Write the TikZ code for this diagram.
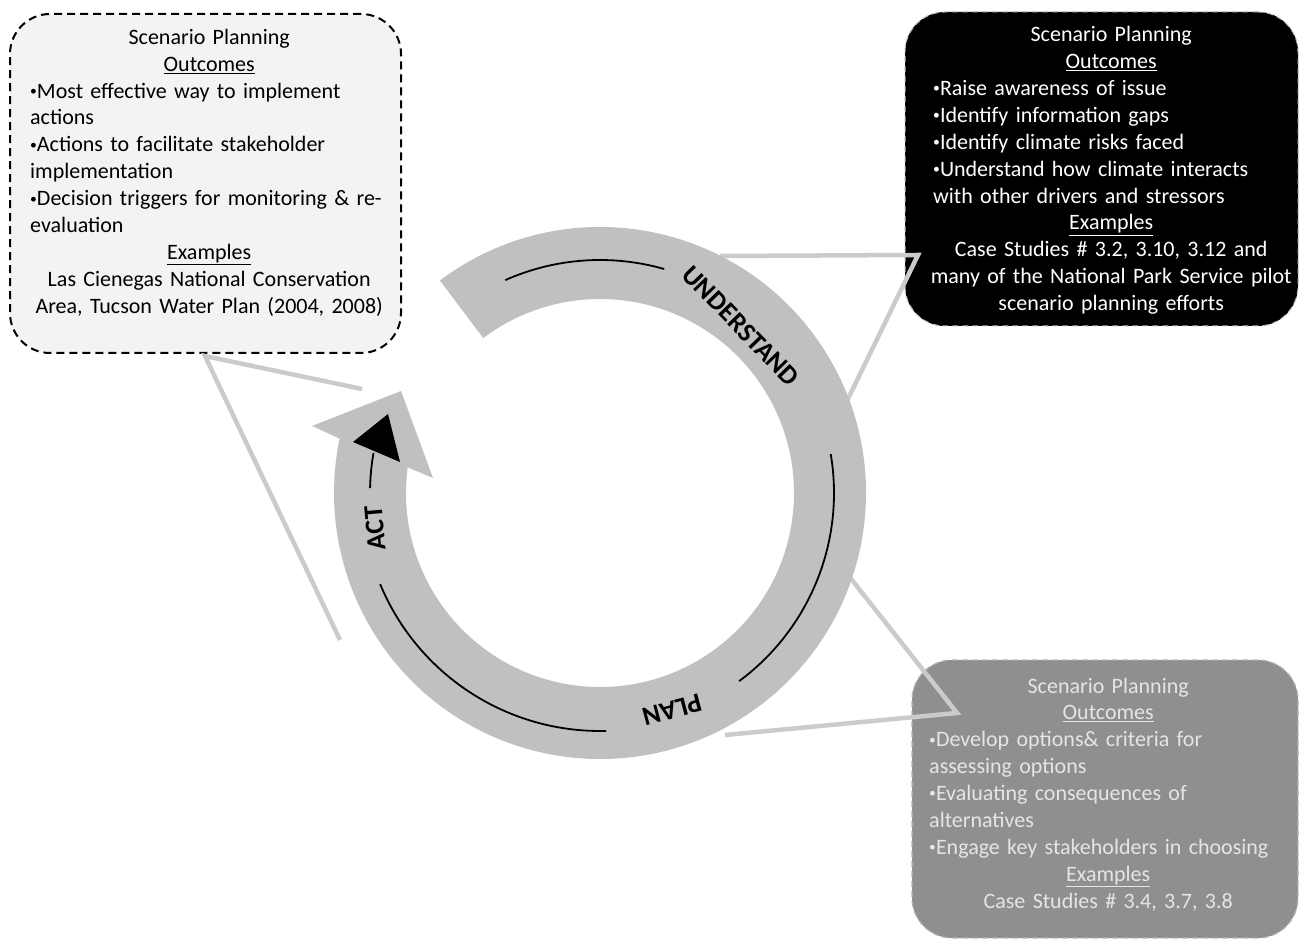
\documentclass[tikz,border=0pt]{standalone}
\usepackage{graphicx}
\usepackage{fontspec}
\setmainfont{Carlito}
\definecolor{ringgray}{HTML}{BEC0C2}
\definecolor{linkgray}{HTML}{CBCBCB}
\definecolor{paleboxfill}{HTML}{F3F3F3}
\definecolor{midboxfill}{HTML}{8E8F91}
\definecolor{midboxedge}{HTML}{B4B5B7}
% small list bullet
\newcommand{\blt}{\raisebox{0.12em}{\scalebox{0.62}{•}}}
\begin{document}
\begin{tikzpicture}[x=1pt,y=1pt,
  panel/.style={rectangle, rounded corners=40pt, inner sep=0pt},
  paneltext/.style={anchor=base west, inner sep=0pt,
    font=\fontsize{22}{26.9}\selectfont},
  link/.style={draw=linkgray, line width=4.5pt},
  arcline/.style={draw=black, line width=1.8pt},
  ringlabel/.style={font=\fontsize{27}{30}\selectfont\bfseries, inner sep=0pt}]
\useasboundingbox (0,0) rectangle (1300,943);

% outcome panels
\node[panel, draw=black, dash pattern=on 8pt off 5pt, line width=2pt,
  fill=paleboxfill, minimum width=391pt, minimum height=339pt]
  (actbox) at (205.5,759.5) {};
\node[panel, draw=gray!55, dash pattern=on 6pt off 4pt, line width=1pt,
  fill=black, minimum width=393pt, minimum height=314pt]
  (understandbox) at (1101.5,774) {};
\node[panel, draw=midboxedge, dash pattern=on 6pt off 4pt, line width=1.2pt,
  fill=midboxfill, minimum width=386pt, minimum height=278pt]
  (planbox) at (1105,144) {};

% callout wedges from the panels to the cycle
\coordinate (actapex) at (205,587);
\coordinate (actA) at (362,554);
\coordinate (actB) at (340,303);
\coordinate (undapex) at (918,688);
\coordinate (undA) at (720,687);
\coordinate (undB) at (845,538);
\coordinate (planapex) at (957,230);
\coordinate (planA) at (848,368);
\coordinate (planB) at (725,208);
\draw[link] (actA) -- (actapex) -- (actB);
\draw[link, line join=miter] (undA) -- (undapex) -- (undB);
\draw[link, line join=miter] (planA) -- (planapex) -- (planB);

% panel texts, one box per printed line
\node[paneltext, text width=358pt] (acttext) at (30,898.7) {%
  \centerline{Scenario Planning}
  \centerline{\underline{Outcomes}}
  \leftline{\blt Most effective way to implement}
  \leftline{actions}
  \leftline{\blt Actions to facilitate stakeholder}
  \leftline{implementation}
  \leftline{\blt Decision triggers for monitoring \& re-}
  \leftline{evaluation}
  \centerline{\underline{Examples}}
  \centerline{Las Cienegas National Conservation}
  \centerline{Area, Tucson Water Plan (2004, 2008)}};
\node[paneltext, text width=356pt, text=white] (understandtext) at (933,901.3) {%
  \centerline{Scenario Planning}
  \centerline{\underline{Outcomes}}
  \leftline{\blt Raise awareness of issue}
  \leftline{\blt Identify information gaps}
  \leftline{\blt Identify climate risks faced}
  \leftline{\blt Understand how climate interacts}
  \leftline{with other drivers and stressors}
  \centerline{\underline{Examples}}
  \centerline{Case Studies \# 3.2, 3.10, 3.12 and}
  \centerline{many of the National Park Service pilot}
  \centerline{scenario planning efforts}};
\node[paneltext, text width=358pt, text=white!90!black] (plantext) at (929,250) {%
  \centerline{Scenario Planning}
  \centerline{\underline{Outcomes}}
  \leftline{\blt Develop options\& criteria for}
  \leftline{assessing options}
  \leftline{\blt Evaluating consequences of}
  \leftline{alternatives}
  \leftline{\blt Engage key stakeholders in choosing}
  \centerline{\underline{Examples}}
  \centerline{Case Studies \# 3.4, 3.7, 3.8}};

% the cycle: a thick circular arrow running clockwise
\begin{scope}[shift={(600,450)}]
  \fill[ringgray] (127:266) arc[start angle=127, end angle=-191.8, radius=266]
    -- (-288,67) -- (-199,102) -- (-167,15)
    -- (-187.6:194) arc[start angle=-187.6, end angle=127, radius=194] -- cycle;
  \draw[arcline] (114:233) arc[start angle=114, end angle=74, radius=233];
  \draw[arcline] (9.6:234) arc[start angle=9.6, end angle=-53.5, radius=234];
  \draw[arcline] (-88.5:238) arc[start angle=-88.5, end angle=-157.5, radius=238];
  \draw[arcline] (178.8:230) arc[start angle=178.8, end angle=170, radius=230];
  \fill[black] (-212,79) -- (-247,51) -- (-200,31) -- cycle;
  \node[ringlabel, rotate=-46] (understand) at (141,167) {UNDERSTAND};
  \node[ringlabel, rotate=195] (plan) at (72,-217) {PLAN};
  \node[ringlabel, rotate=95] (act) at (-225,-35) {ACT};
\end{scope}
\end{tikzpicture}
\end{document}
